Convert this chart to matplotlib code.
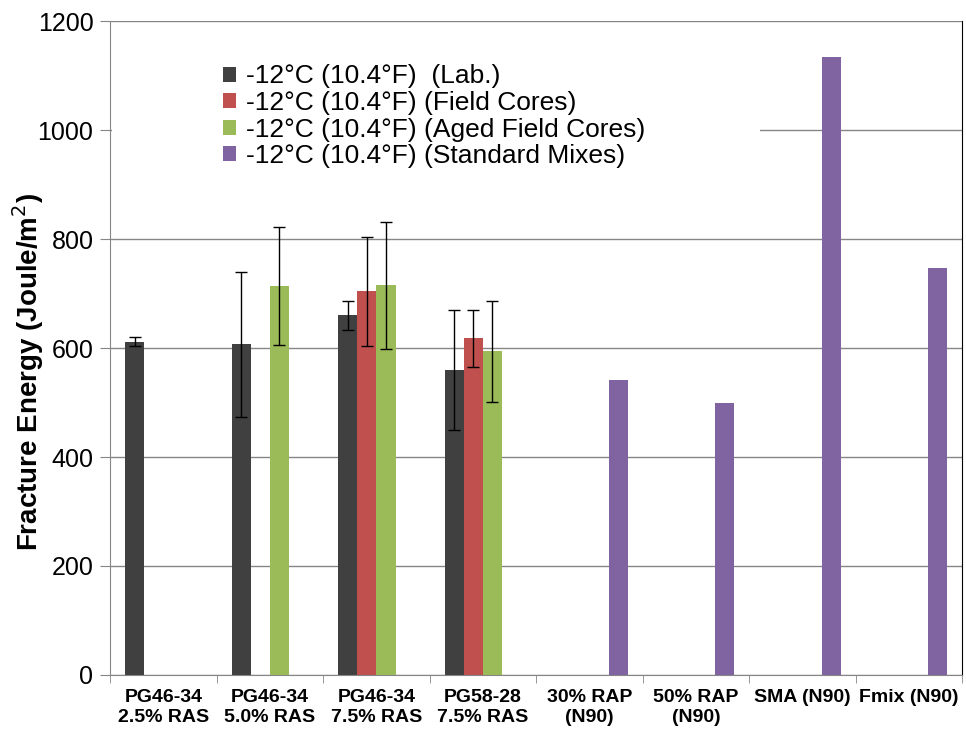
import numpy as np
import matplotlib.pyplot as plt
from matplotlib.ticker import FixedLocator
from matplotlib.patches import Rectangle
from matplotlib import font_manager

categories = ['PG46-34\n2.5% RAS', 'PG46-34\n5.0% RAS', 'PG46-34\n7.5% RAS', 'PG58-28\n7.5% RAS',
              '30% RAP\n(N90)', '50% RAP\n(N90)', 'SMA (N90)\n', 'Fmix (N90)\n']
series = ['-12°C (10.4°F)  (Lab.)', '-12°C (10.4°F) (Field Cores)',
          '-12°C (10.4°F) (Aged Field Cores)', '-12°C (10.4°F) (Standard Mixes)']
lab = [612, 607, 660, 559, 0, 0, 0, 0]
lab_err = [8, 133, 27, 110, 0, 0, 0, 0]
field = [0, 0, 704, 618, 0, 0, 0, 0]
field_err = [0, 0, 100, 52, 0, 0, 0, 0]
aged = [0, 714, 715, 594, 0, 0, 0, 0]
aged_err = [0, 109, 117, 93, 0, 0, 0, 0]
standard = [0, 0, 0, 0, 541, 500, 1134, 746]
colors = ['#404040', '#C0504D', '#9BBB59', '#8064A2']

plt.rcParams['font.family'] = ['Liberation Sans', 'DejaVu Sans']
names = {f.name for f in font_manager.fontManager.ttflist}
narrow = ['Liberation Sans Narrow'] if 'Liberation Sans Narrow' in names else ['Liberation Sans']

fig = plt.figure(figsize=(9.66, 7.38), dpi=100)
ax = fig.add_axes([0.114, 0.0854, 0.882, 0.886])

x = np.arange(len(categories))
w = 0.18
vals = [lab, field, aged, standard]
errs = [lab_err, field_err, aged_err, None]
for i, (v, e) in enumerate(zip(vals, errs)):
    pos = x + (i - 1.5) * w
    ax.bar(pos, v, w, color=colors[i], label=series[i], zorder=2)
    if e is not None:
        m = np.array(e) > 0
        ax.errorbar(pos[m], np.array(v)[m], yerr=np.array(e)[m], fmt='none',
                    ecolor='black', elinewidth=1, capsize=4, capthick=1, zorder=3)

ax.set_xlim(-0.5, len(categories) - 0.5)
ax.set_ylim(0, 1200)
ax.set_yticks(np.arange(0, 1201, 200))
ax.yaxis.grid(True, color='#868686', lw=1)
ax.set_axisbelow(True)

ax.set_xticks(x)
ax.set_xticklabels(categories, fontsize=14, fontweight='bold', family=narrow, linespacing=1.25)
ax.xaxis.set_minor_locator(FixedLocator(np.arange(-0.5, len(categories), 1)))
ax.tick_params(axis='x', which='major', length=0, pad=10)
ax.tick_params(axis='x', which='minor', length=6, color='#868686')
ax.tick_params(axis='y', labelsize=18, length=7, color='#868686', pad=5)

ax.spines['top'].set_visible(False)
ax.spines['left'].set_color('#868686')
ax.spines['bottom'].set_color('#868686')
ax.spines['right'].set_color('black')

ax.set_ylabel('Fracture Energy (Joule/m$^2$)', fontsize=20, fontweight='bold', family=narrow)
ax.yaxis.set_label_coords(-0.075, 0.463)

# white block behind the legend hides the grid line there
ax.add_patch(Rectangle((0.002, 0.765), 0.761, 0.19, transform=ax.transAxes,
                       facecolor='white', edgecolor='none', zorder=1))

leg = ax.legend(loc='upper left', bbox_to_anchor=(0.111, 0.962), fontsize=19, frameon=False,
                handlelength=0.5, handleheight=0.5, handletextpad=0.35,
                labelspacing=0.1, borderpad=0.2)

fig.savefig('out.png', dpi=100)
